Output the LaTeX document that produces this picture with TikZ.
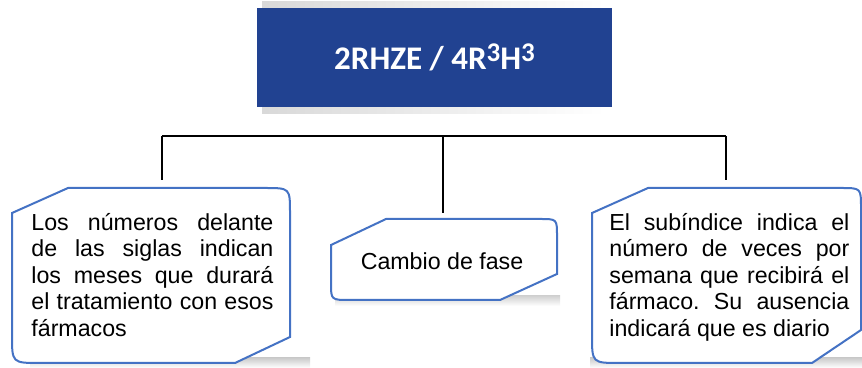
\documentclass[tikz,border=0pt]{standalone}
\usepackage{fontspec}
\setmainfont{Liberation Sans}
\newfontfamily\titlefont{Carlito}
\frenchspacing

\definecolor{titleblue}{RGB}{33,66,145}
\definecolor{edgeblue}{RGB}{68,114,196}

\newcommand{\supthree}{\raisebox{4pt}{\titlefont\bfseries\fontsize{13.5}{13.5}\selectfont 3}}

\begin{document}
\begin{tikzpicture}[x=0.5pt,y=-0.5pt,
  titlebox/.style={fill=titleblue, text=white, minimum width=177.5pt, minimum height=49.5pt,
    font=\titlefont\bfseries\fontsize{16.5}{18}\selectfont},
  notebox/.style={draw=edgeblue, line width=1pt, fill=white},
  notetext/.style={inner sep=0pt, text width=121pt, align=justify, anchor=north west,
    font=\fontsize{11.6}{13.25}\selectfont,
    execute at begin node={\tolerance=10000\hyphenpenalty=10000}},
  link/.style={draw=black, line width=1pt}]

\useasboundingbox (0,0) rectangle (862,368);

% Title
\shade[left color=gray!30, right color=white] (262,2) rectangle (605,114);
\node[titlebox] (title) at (434.5,57.5) {2RHZE / 4R\supthree H\supthree};

% Connectors
\coordinate (hubl) at (162,136);
\coordinate (hubm) at (443,136);
\coordinate (hubr) at (726,136);
\coordinate (leftend) at (162,180);
\coordinate (midend) at (443,213);
\coordinate (rightend) at (726,180);
\draw[link] (hubl) -- (hubr);
\draw[link] (hubl) -- (leftend);
\draw[link] (hubm) -- (midend);
\draw[link] (hubr) -- (rightend);

% Shadows
\shade[top color=gray!40, bottom color=white] (30,358) rectangle (310,368);
\shade[top color=gray!35, bottom color=white] (335,296) rectangle (560,306);
\shade[top color=gray!40, bottom color=white] (590,358) rectangle (862,368);

% Boxes
\draw[notebox] (12,213) -- (68,188) -- (265,188) .. controls (290,188) .. (290,213)
  -- (290,337) -- (235,363) -- (40,363) .. controls (12,363) .. (12,335) -- cycle;
\draw[notebox] (331,245) -- (386,219) -- (540,219) .. controls (557,219) .. (557,236)
  -- (557,274) -- (500,300) -- (350,300) .. controls (331,300) .. (331,283) -- cycle;
\draw[notebox] (592,213) -- (648,188) -- (841,188) .. controls (861,188) .. (861,208)
  -- (861,330) -- (812,363) -- (620,363) .. controls (592,363) .. (592,335) -- cycle;

% Texts
\node[notetext] (lefttext) at (31,213) {Los números delante\linebreak
  de las siglas indican\linebreak los meses que durará\linebreak
  el tratamiento con esos\linebreak fármacos};
\node[font=\fontsize{11.6}{13.25}\selectfont, anchor=base] (midtext) at (442,270) {Cambio de fase};
\node[notetext, text width=120pt] (righttext) at (609,213) {El subíndice indica el\linebreak
  número de veces por\linebreak semana que recibirá el\linebreak
  fármaco. Su ausencia\linebreak indicará que es diario};

\end{tikzpicture}
\end{document}
